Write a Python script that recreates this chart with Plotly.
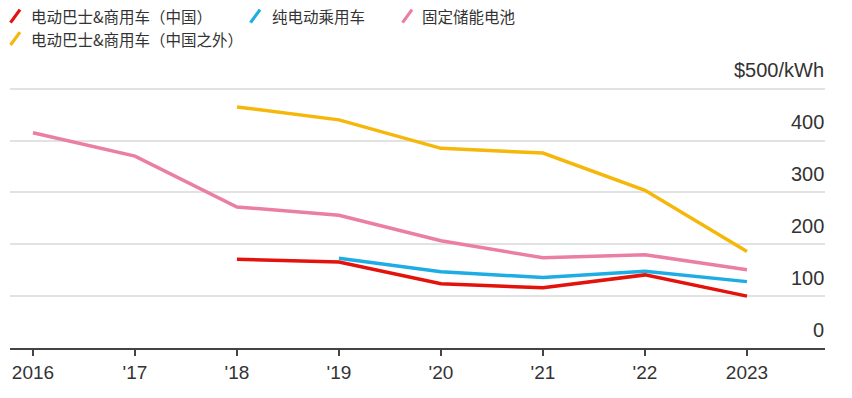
import plotly.graph_objects as go

years = [2016, 2017, 2018, 2019, 2020, 2021, 2022, 2023]
year_labels = ["2016", "'17", "'18", "'19", "'20", "'21", "'22", "2023"]

names = ["电动巴士&商用车（中国）", "纯电动乘用车", "固定储能电池", "电动巴士&商用车（中国之外）"]
colors = ["#e3120b", "#1dade4", "#ea7ea4", "#f5b70a"]

bus_china = [None, None, 171, 166, 124, 116, 141, 100]
bev_passenger = [None, None, None, 173, 147, 136, 148, 128]
stationary = [415, 370, 272, 256, 207, 174, 180, 151]
bus_ex_china = [None, None, 465, 440, 385, 376, 304, 186]
series = [bus_china, bev_passenger, stationary, bus_ex_china]

y_ticks = [0, 100, 200, 300, 400, 500]
y_ticktext = ["0", "100", "200", "300", "400", "$500/kWh"]

W, H = 852, 398
ML, MR, MT, MB = 10, 27, 67.5, 49.7
PW, PH = W - ML - MR, H - MT - MB

def px(x):
    return (x - ML) / PW

def py(y):
    return (H - MB - y) / PH

fig = go.Figure()
draw_order = [2, 3, 1, 0]
for i in draw_order:
    fig.add_trace(go.Scatter(
        x=years, y=series[i], mode="lines", name=names[i],
        line=dict(color=colors[i], width=3.5), connectgaps=False,
        showlegend=False, hoverinfo="skip"))

font_family = "Liberation Sans, Arial, Noto Sans CJK SC, sans-serif"
cjk_family = "Noto Sans CJK SC, Liberation Sans, sans-serif"

# manual legend (slanted stroke icons)
legend_pos = [(10, 29, 15.5), (250, 270, 15.5), (402, 420, 15.5), (10, 29, 38)]
shapes = []
annotations = []
for i, (ix, tx, ty) in enumerate(legend_pos):
    shapes.append(dict(type="line", xref="paper", yref="paper",
                       x0=px(ix + 0.5), y0=py(ty + 6.5), x1=px(ix + 10), y1=py(ty - 6.5),
                       line=dict(color=colors[i], width=3.2)))
    annotations.append(dict(xref="paper", yref="paper", x=px(tx), y=py(ty),
                            xanchor="left", yanchor="middle", showarrow=False,
                            text=names[i], font=dict(family=cjk_family, size=15.5, color="#333333")))

# y tick labels sitting above their gridlines, right aligned
for v, t in zip(y_ticks, y_ticktext):
    annotations.append(dict(xref="paper", yref="y", x=px(826), y=v,
                            xanchor="right", yanchor="middle", yshift=18.5,
                            showarrow=False, text=t,
                            font=dict(family=font_family, size=20, color="#333333")))

fig.update_layout(
    width=W, height=H,
    margin=dict(l=ML, r=MR, t=MT, b=MB),
    plot_bgcolor="white", paper_bgcolor="white",
    font=dict(family=font_family, color="#333333"),
    shapes=shapes, annotations=annotations,
    xaxis=dict(range=[2015.775, 2023.765], tickvals=years, ticktext=year_labels,
               showgrid=False, zeroline=False, showline=True, linecolor="#444444", linewidth=1.5,
               ticks="outside", ticklen=6, tickcolor="#444444", tickwidth=1.5,
               tickfont=dict(size=19, color="#333333")),
    yaxis=dict(range=[0, 540], tickvals=y_ticks, showticklabels=False,
               showgrid=True, gridcolor="#e2e2e2", gridwidth=2,
               zeroline=False, showline=False, ticks=""),
)

fig.write_html("out.html", config={"displayModeBar": False},
               post_script="document.body.style.margin='0';document.body.style.padding='0';")
